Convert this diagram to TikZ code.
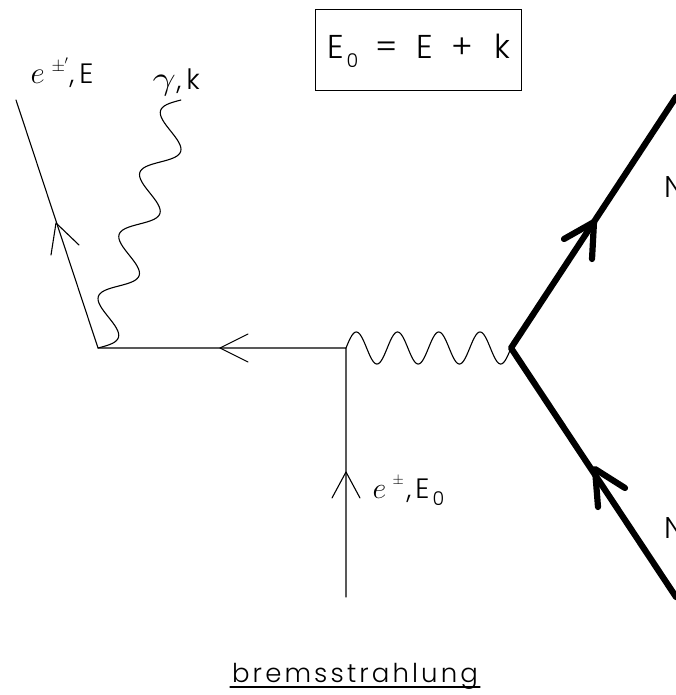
\documentclass[tikz,border=0pt]{standalone}
\usepackage{graphicx}
\usepackage{fontspec}
\setmainfont{Poppins Light}
\usetikzlibrary{calc}
\newcommand{\putat}[3][0pt]{\rlap{\hspace{#2}\raisebox{#1}{#3}}}
\newcommand{\fs}[2]{{\fontsize{#1}{#1}\selectfont #2}}
\newcommand{\bigmath}[2]{\scalebox{#1}{\fs{20}{$#2$}}}
% wave from #1 to #2, #3 periods, amplitude #4 (signed, positive = left of travel)
\newcommand{\wavelink}[4]{%
  \draw[thinline] let \p1=(#1),\p2=(#2),\n1={veclen(\x2-\x1,\y2-\y1)} in
    plot[variable=\t,domain=0:1,samples=241,smooth]
    ({\x1+(\x2-\x1)*\t-(\y2-\y1)/\n1*#4*sin(360*#3*\t)},
     {\y1+(\y2-\y1)*\t+(\x2-\x1)/\n1*#4*sin(360*#3*\t)});}
\tikzset{
 thinline/.style={line width=1.1pt,line cap=round,line join=round},
 thickline/.style={line width=6.2pt,line cap=round,line join=round},
 lab/.style={anchor=base west,inner sep=0pt,outer sep=0pt},
}
\begin{document}
\begin{tikzpicture}[x=1pt,y=-1pt]
\useasboundingbox (0,0) rectangle (676,695);
\clip (0,0) rectangle (676,695);
\coordinate (A) at (98,348);
\coordinate (B) at (346,348);
\coordinate (C) at (511,348);
\coordinate (eOut) at (16,100);
\coordinate (eIn) at (346,597);
\coordinate (ph) at (181,100);
\coordinate (Nup) at (676,97);
\coordinate (Ndn) at (676,597);
\draw[thinline] (eOut) -- (A) -- (B) -- (eIn);
\coordinate (t1) at (56,223); \draw[thinline] (51,255) -- (t1) -- (79,245);
\coordinate (t2) at (220,348); \draw[thinline] (248,334) -- (t2) -- (248,362);
\coordinate (t3) at (346,472); \draw[thinline] (332,498) -- (t3) -- (360,498);
\wavelink{B}{C}{4}{16pt}
\wavelink{A}{ph}{4}{-16pt}
\draw[thickline] (Nup) -- (C) -- (Ndn);
\coordinate (t4) at (594,222); \draw[thickline] (564,239) -- (t4) -- (592,259);
\coordinate (t5) at (595,469); \draw[thickline] (625,488) -- (t5) -- (598,507);
\node[draw,line width=0.85pt,minimum width=206pt,minimum height=81pt,inner sep=0pt] (box) at (418,49.5) {};
\node[lab] (eq) at (329,59) {\fs{33}{\putat{-2pt}{E}\putat[-9pt]{17pt}{\fs{19}{0}}\putat{46pt}{=}\putat{87pt}{E}\putat{122pt}{+}\putat{165pt}{k}}};
\node[lab] (l1) at (30,84) {\putat{0pt}{\bigmath{1.5}{e}}\putat[12pt]{21pt}{\fs{19}{$\pm$}}\putat[13pt]{34pt}{\fs{17}{$'$}}\putat{39pt}{\fs{28}{,}}\putat{49pt}{\fs{28}{E}}};
\node[lab] (l2) at (152,90) {\putat{0pt}{\scalebox{2}[1.6]{\fs{20}{$\gamma$}}}\putat{24pt}{\fs{28}{,}}\putat{34pt}{\fs{28}{k}}};
\node[lab] (l3) at (372,498) {\putat{0pt}{\bigmath{1.45}{e}}\putat[14pt]{20pt}{\fs{15}{$\pm$}}\putat{34pt}{\fs{28}{,}}\putat{43pt}{\fs{28}{E}}\putat[-7pt]{60pt}{\fs{19}{0}}};
\node[lab] (n1) at (664,197) {\fs{30}{N}};
\node[lab] (n2) at (664,538) {\fs{30}{N}};
\node[anchor=base,inner sep=0pt] (title) at (355,682) {\fs{26}{\addfontfeature{LetterSpace=12}bremsstrahlung}};
\draw[thinline] (230,687) -- (480,687);
\end{tikzpicture}
\end{document}
